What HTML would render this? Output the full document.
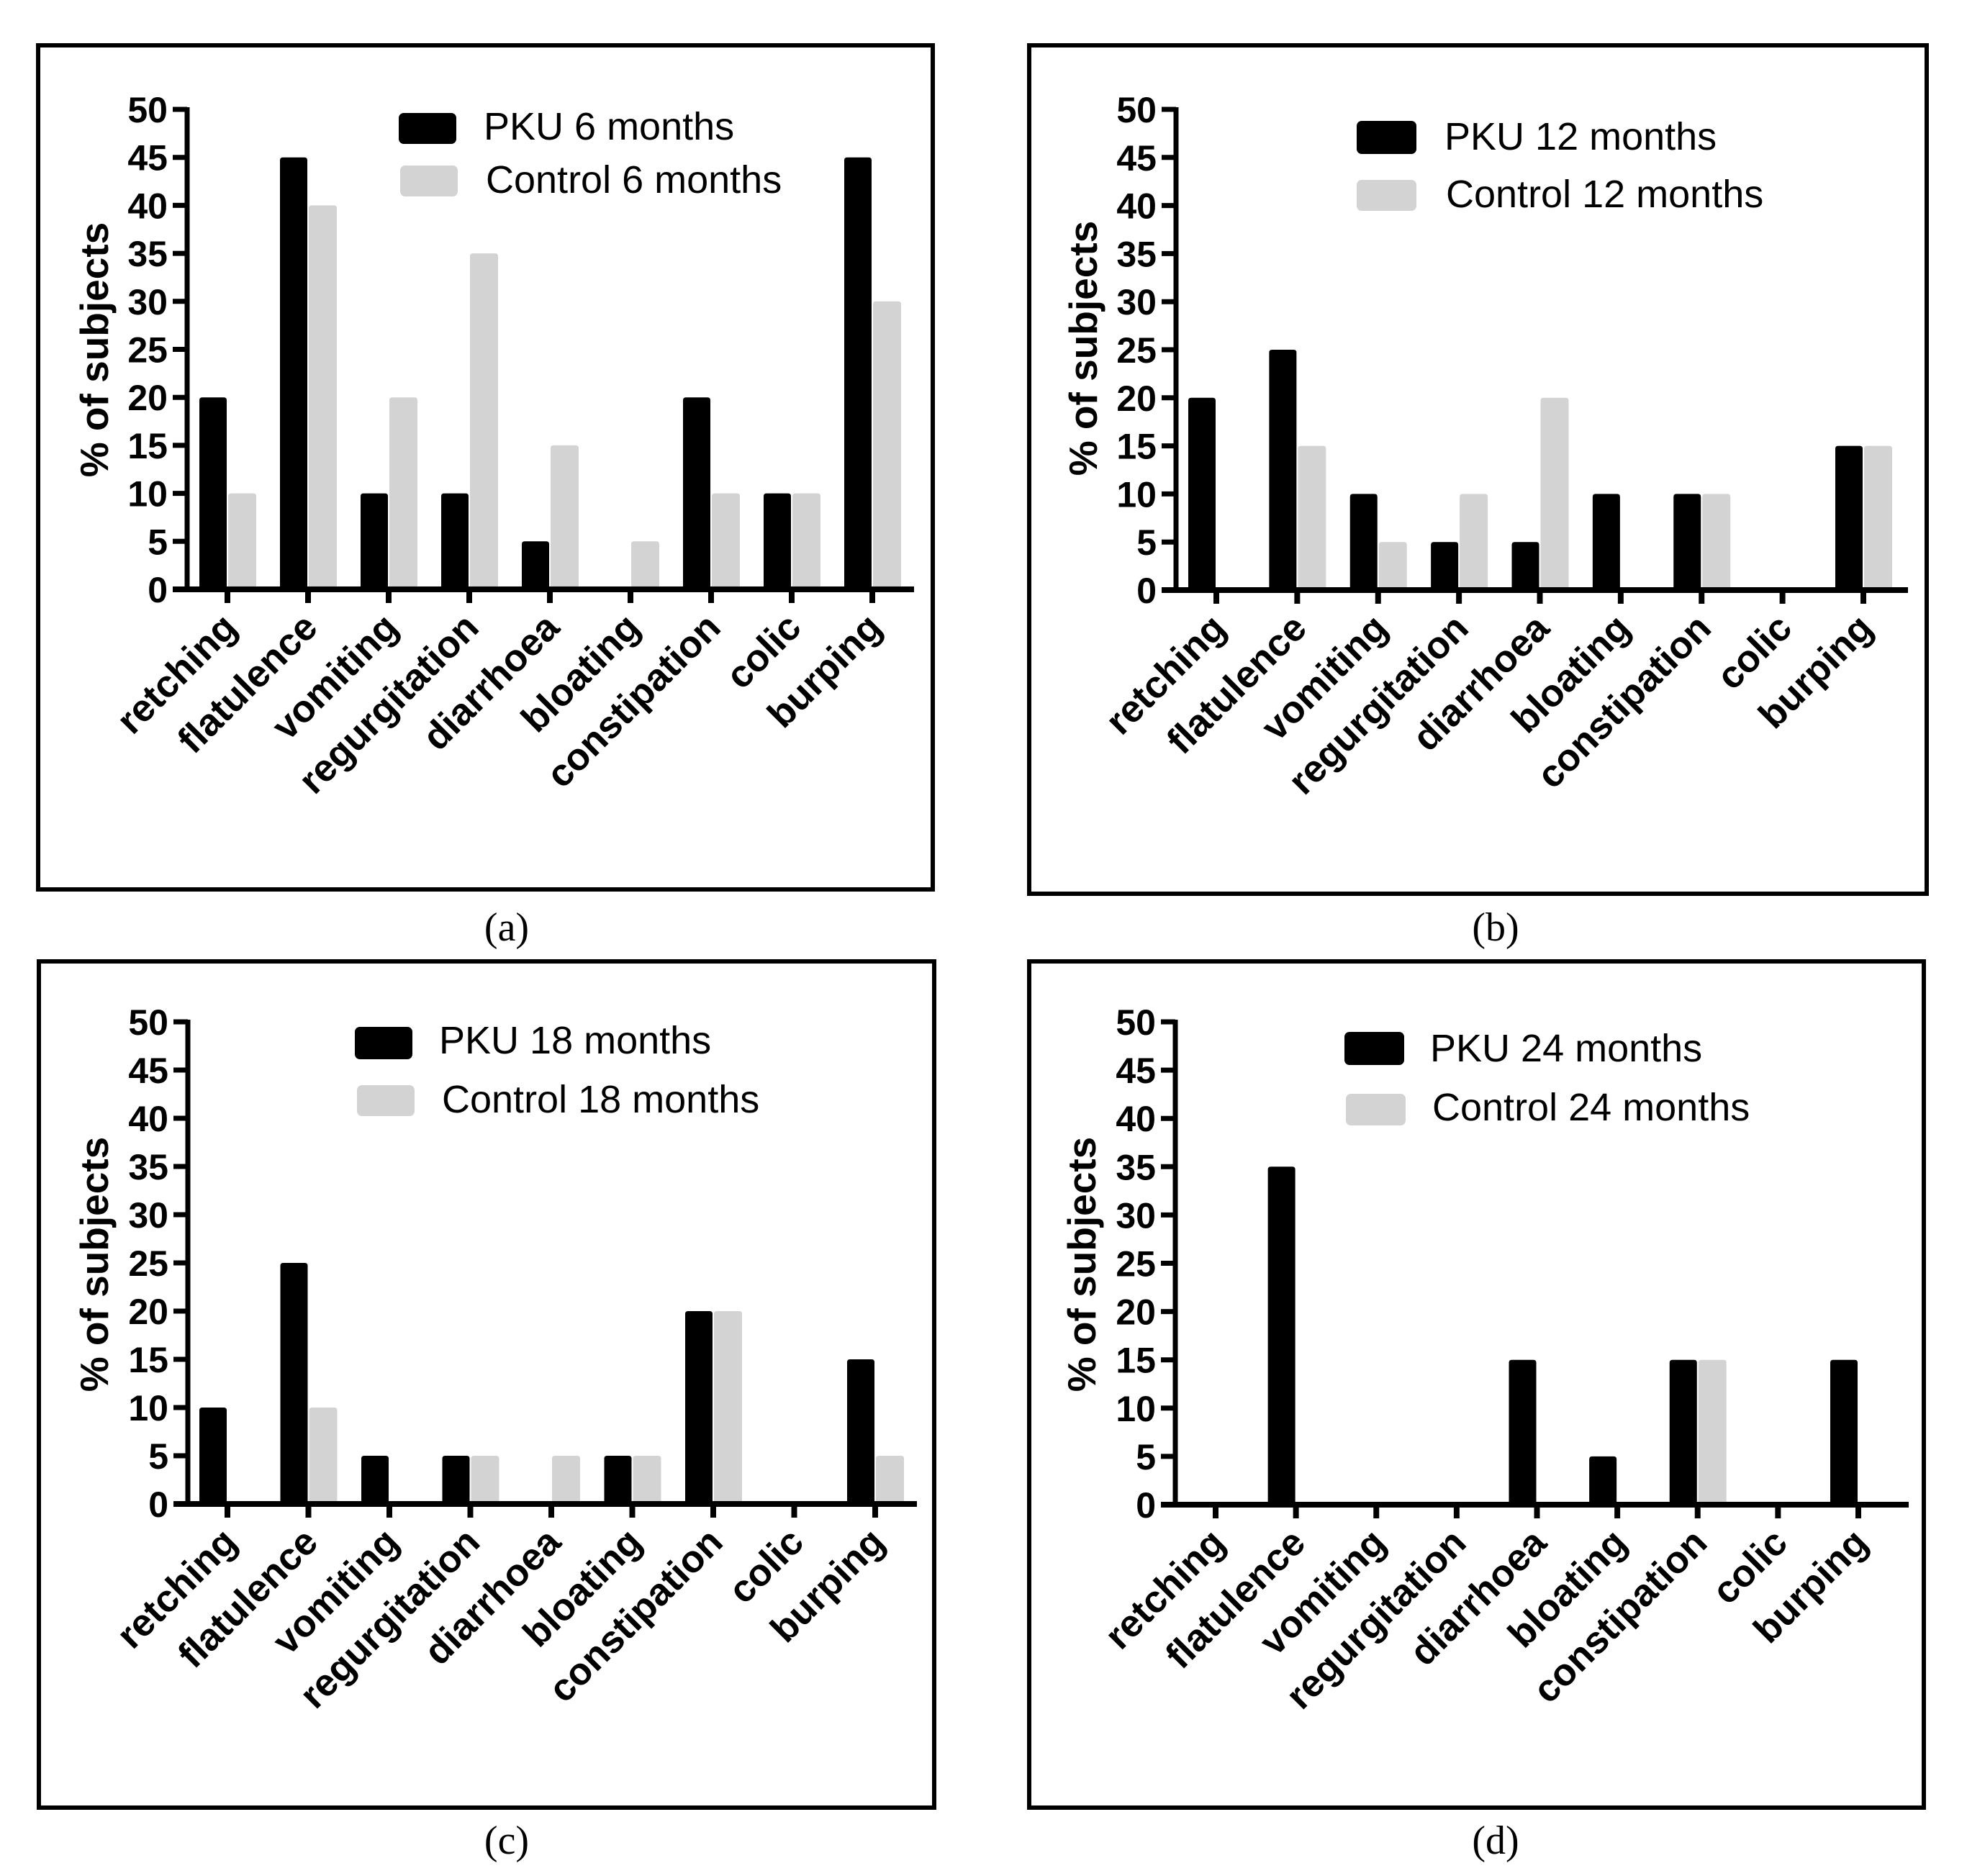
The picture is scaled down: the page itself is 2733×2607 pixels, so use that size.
<!DOCTYPE html>
<html><head><meta charset="utf-8"><style>
html,body{margin:0;padding:0;background:#fff;}
svg{display:block;}
</style></head><body>
<svg id="fig" width="2733" height="2607" viewBox="0 0 2733 2607" xmlns="http://www.w3.org/2000/svg"></svg>
<script>
const categories = ["retching","flatulence","vomiting","regurgitation","diarrhoea","bloating","constipation","colic","burping"];
const yTicks = [0,5,10,15,20,25,30,35,40,45,50];
const pku6 = [20,45,10,10,5,0,20,10,45];
const ctrl6 = [10,40,20,35,15,5,10,10,30];
const pku12 = [20,25,10,5,5,10,10,0,15];
const ctrl12 = [0,15,5,10,20,0,10,0,15];
const pku18 = [10,25,5,5,0,5,20,0,15];
const ctrl18 = [0,10,0,5,5,5,20,0,5];
const pku24 = [0,35,0,0,15,5,15,0,15];
const ctrl24 = [0,0,0,0,0,0,15,0,0];
const legendPku = ["PKU 6 months","PKU 12 months","PKU 18 months","PKU 24 months"];
const legendCtrl = ["Control 6 months","Control 12 months","Control 18 months","Control 24 months"];
const captions = ["(a)","(b)","(c)","(d)"];

const NS="http://www.w3.org/2000/svg";
const svg=document.getElementById('fig');
function mk(tag,attrs,parent,text){
  const e=document.createElementNS(NS,tag);
  for(const k in attrs) e.setAttribute(k,attrs[k]);
  if(text!==undefined) e.textContent=text;
  (parent||svg).appendChild(e);
  return e;
}
const panels=[
 {id:'a',frame:[53,63,1296,1236],ax:260,y50:152,y0:819,t0:316,t8:1212,xend:1270,
  leg:[554,157,80,43, 672,194],leg2:[556,230,80,43, 675,268],title:[150,486],cap:[704,1307],pk:pku6,ct:ctrl6},
 {id:'b',frame:[1430,63,2677,1242],ax:1634,y50:152,y0:820,t0:1690,t8:2589,xend:2651,
  leg:[1885,168,83,46, 2007,208],leg2:[1885,250,83,43, 2009,288],title:[1524,484],cap:[2078,1307],pk:pku12,ct:ctrl12},
 {id:'c',frame:[54,1336,1298,2512],ax:261,y50:1420,y0:2090,t0:316,t8:1216,xend:1274,
  leg:[493,1427,80,45, 610,1464],leg2:[496,1508,80,43, 614,1546],title:[150,1757],cap:[704,2576],pk:pku18,ct:ctrl18},
 {id:'d',frame:[1430,1336,2673,2512],ax:1633,y50:1420,y0:2091,t0:1689,t8:2582,xend:2652,
  leg:[1868,1434,83,46, 1987,1475],leg2:[1870,1520,83,44, 1990,1557],title:[1522,1757],cap:[2078,2576],pk:pku24,ct:ctrl24}
];
panels.forEach((p,pi)=>{
  const g=mk('g',{});
  
  
  const f=p.frame;
  const fr=mk('rect',{x:f[0],y:f[1],width:f[2]-f[0],height:f[3]-f[1],fill:'none',stroke:'#000','stroke-width':6},g);
  
  
  const yS=v=>p.y0+(p.y50-p.y0)*v/50;
  const step=(p.t8-p.t0)/8;
  const xS=i=>p.t0+i*step;
  categories.forEach((c,i)=>{
    const t=xS(i);
    if(p.pk[i]>0){
      const b=mk('path',{d:`M${t-39},${p.y0} V${yS(p.pk[i])+4} Q${t-39},${yS(p.pk[i])} ${t-35},${yS(p.pk[i])} H${t-5} Q${t-1},${yS(p.pk[i])} ${t-1},${yS(p.pk[i])+4} V${p.y0} Z`,fill:'#000'},g);
      
      
    }
    if(p.ct[i]>0){
      const b=mk('path',{d:`M${t+1},${p.y0} V${yS(p.ct[i])+4} Q${t+1},${yS(p.ct[i])} ${t+5},${yS(p.ct[i])} H${t+36} Q${t+40},${yS(p.ct[i])} ${t+40},${yS(p.ct[i])+4} V${p.y0} Z`,fill:'#d3d3d3'},g);
      
      
    }
  });
  const ya=mk('line',{x1:p.ax,y1:p.y50-3,x2:p.ax,y2:p.y0+4,stroke:'#000','stroke-width':7},g);
  
  
  yTicks.forEach(v=>{
    const y=yS(v);
    const tl=mk('line',{x1:p.ax-20,y1:y,x2:p.ax,y2:y,stroke:'#000','stroke-width':7},g);
    
    
    const tt=mk('text',{x:p.ax-27,y:y+18,'text-anchor':'end','font-family':'Liberation Sans, Arial, sans-serif','font-weight':'bold','font-size':50,fill:'#000'},g,String(v));
    
    
  });
  const xa=mk('line',{x1:p.ax-20,y1:p.y0,x2:p.xend,y2:p.y0,stroke:'#000','stroke-width':8},g);
  
  
  categories.forEach((c,i)=>{
    const t=xS(i);
    const tk=mk('line',{x1:t,y1:p.y0,x2:t,y2:p.y0+19,stroke:'#000','stroke-width':8},g);
    
    
    const ax=t+16, ay=p.y0+56;
    const lt=mk('text',{x:ax,y:ay,'text-anchor':'end',transform:`rotate(-45 ${ax} ${ay})`,'font-family':'Liberation Sans, Arial, sans-serif','font-weight':'bold','font-size':53,fill:'#000'},g,c);
    
    
  });
  const tx=p.title[0], ty=p.title[1];
  const yt=mk('text',{x:tx,y:ty,'text-anchor':'middle',transform:`rotate(-90 ${tx} ${ty})`,'font-family':'Liberation Sans, Arial, sans-serif','font-weight':'bold','font-size':55,fill:'#000'},g,'% of subjects');
  
  
  const L=p.leg, L2=p.leg2;
  const s1=mk('rect',{x:L[0],y:L[1],width:L[2],height:L[3],rx:7,fill:'#000'},g);
  
  
  const t1=mk('text',{x:L[4],y:L[5],'font-family':'Liberation Sans, Arial, sans-serif','font-size':54,fill:'#000'},g,legendPku[pi]);
  
  
  const s2=mk('rect',{x:L2[0],y:L2[1],width:L2[2],height:L2[3],rx:7,fill:'#d3d3d3'},g);
  
  
  const t2=mk('text',{x:L2[4],y:L2[5],'font-family':'Liberation Sans, Arial, sans-serif','font-size':54,fill:'#000'},g,legendCtrl[pi]);
  
  
  const cp=mk('text',{x:p.cap[0],y:p.cap[1],'text-anchor':'middle','font-family':'Liberation Serif, Times New Roman, serif','font-size':56,fill:'#000'},svg,captions[pi]);
  
  
});
</script>
</body></html>
